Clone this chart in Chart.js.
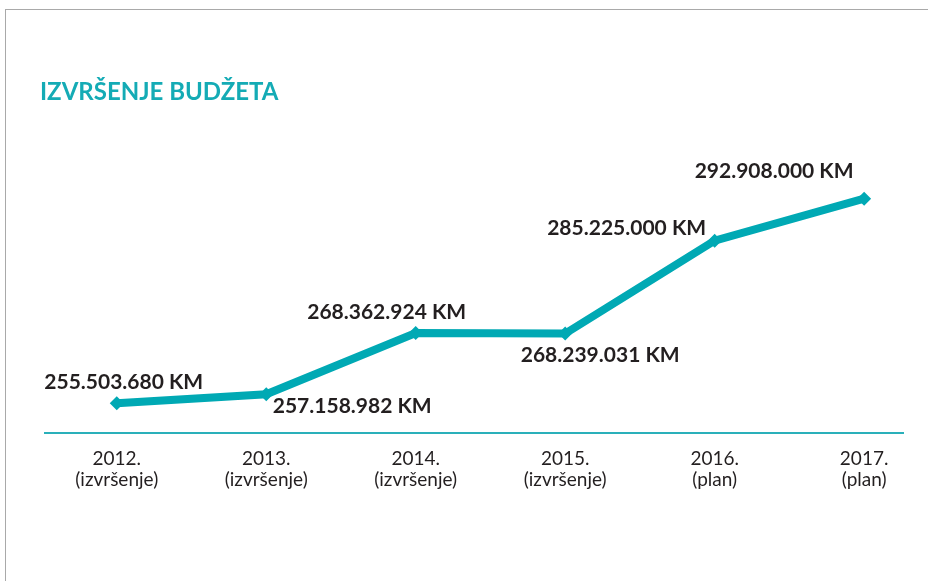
<!DOCTYPE html>
<html>
<head>
<meta charset="utf-8">
<script src="https://cdn.jsdelivr.net/npm/chart.js@4.4.1/dist/chart.umd.min.js"></script>
<style>
  html, body { margin: 0; padding: 0; background: #fff; }
  #okvir { position: absolute; left: 5px; top: 9px; width: 940px; height: 590px;
           border-top: 1px solid #a9a9a9; border-left: 1px solid #a9a9a9; }
  #wrap { position: absolute; left: 0; top: 0; width: 928px; height: 581px; }
</style>
</head>
<body>
<div id="okvir"></div>
<div id="wrap"><canvas id="chart"></canvas></div>
<script>
// podaci
const godine = ["2012.", "2013.", "2014.", "2015.", "2016.", "2017."];
const vrsta = ["(izvršenje)", "(izvršenje)", "(izvršenje)", "(izvršenje)", "(plan)", "(plan)"];
const iznosi = [255503680, 257158982, 268362924, 268239031, 285225000, 292908000];

// pomak natpisa od tačke (dx, dy)
const pomaci = [[7, -21], [86, 12], [-29, -21], [35, 22], [-88, -12], [-90, -27]];

const tirkiz = "#00a9b4";
const tamna = "#231f20";

const formatKM = v => v.toLocaleString("de-DE") + " KM";

const natpisi = {
  id: "natpisi",
  afterDatasetsDraw(chart) {
    const ctx = chart.ctx;
    const meta = chart.getDatasetMeta(0);
    ctx.save();
    ctx.font = "bold 21px Lato";
    ctx.fillStyle = tamna;
    ctx.textAlign = "center";
    ctx.textBaseline = "middle";
    meta.data.forEach((pt, i) => {
      ctx.fillText(formatKM(iznosi[i]), pt.x + pomaci[i][0], pt.y + pomaci[i][1]);
    });
    ctx.restore();
  }
};

const ctx = document.getElementById("chart").getContext("2d");
new Chart(ctx, {
  type: "line",
  data: {
    datasets: [{
      data: iznosi.map((v, i) => ({ x: i, y: v })),
      borderColor: tirkiz,
      backgroundColor: tirkiz,
      borderWidth: 8,
      pointStyle: "rectRot",
      pointRadius: 7,
      pointBackgroundColor: tirkiz,
      pointBorderWidth: 0,
      tension: 0,
      fill: false
    }]
  },
  options: {
    responsive: true,
    maintainAspectRatio: false,
    animation: false,
    layout: { padding: { top: 10, left: 40, right: 25, bottom: 0 } },
    plugins: {
      legend: { display: false },
      tooltip: { enabled: false },
      title: {
        display: true,
        text: "IZVRŠENJE BUDŽETA",
        align: "start",
        color: "#14abb5",
        font: { family: "Lato", size: 24, weight: "bold" },
        padding: { top: 68, bottom: 43 }
      }
    },
    scales: {
      x: {
        type: "linear",
        min: -0.48,
        max: 5.26,
        afterBuildTicks: s => { s.ticks = godine.map((g, i) => ({ value: i })); },
        afterFit: s => { s.height = 148; },
        grid: { display: false, drawTicks: false },
        border: { display: true, color: "#2ab0ba", width: 2 },
        ticks: {
          padding: 16,
          color: tamna,
          font: { family: "Lato", size: 19, lineHeight: 1.08 },
          callback: v => [godine[v], vrsta[v]]
        }
      },
      y: {
        min: 250070000,
        max: 301840000,
        afterFit: s => { s.width = 5; },
        grid: { display: false },
        border: { display: false },
        ticks: { display: false }
      }
    }
  },
  plugins: [natpisi]
});
</script>
</body>
</html>
